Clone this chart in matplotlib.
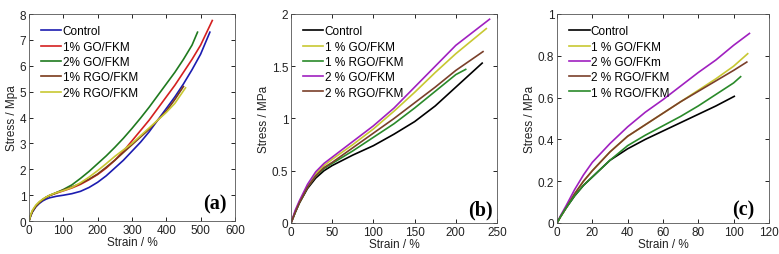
import matplotlib
matplotlib.use('Agg')
import matplotlib.pyplot as plt
from matplotlib.ticker import FuncFormatter

plt.rcParams['font.family'] = ['Liberation Sans', 'DejaVu Sans']
plt.rcParams['font.size'] = 8

# ---- panel (a) ----
a_labels = ['Control', '1% GO/FKM', '2% GO/FKM', '1% RGO/FKM', '2% RGO/FKM']
a_colors = ['#1c1cb0', '#d42020', '#1f7a1f', '#7a3a1a', '#c8c832']
a_x = [
    [0, 5, 10, 20, 30, 40, 50, 60, 80, 100, 125, 150, 175, 200, 225, 250, 275, 300, 325, 350, 375, 400, 425, 450, 475, 500, 527],
    [0, 5, 10, 20, 30, 40, 50, 60, 80, 100, 125, 150, 175, 200, 225, 250, 275, 300, 325, 350, 375, 400, 425, 450, 475, 500, 534],
    [0, 5, 10, 20, 30, 40, 50, 60, 80, 100, 125, 150, 175, 200, 225, 250, 275, 300, 325, 350, 375, 400, 425, 450, 475, 491],
    [0, 5, 10, 20, 30, 40, 50, 60, 80, 100, 125, 150, 175, 200, 225, 250, 275, 300, 325, 350, 375, 400, 425, 450],
    [0, 5, 10, 20, 30, 40, 50, 60, 80, 100, 125, 150, 175, 200, 225, 250, 275, 300, 325, 350, 375, 400, 425, 456],
]
a_y = [
    [0, 0.2, 0.35, 0.55, 0.68, 0.78, 0.85, 0.9, 0.96, 1.0, 1.06, 1.15, 1.3, 1.5, 1.75, 2.05, 2.35, 2.7, 3.05, 3.45, 3.9, 4.35, 4.8, 5.3, 5.85, 6.45, 7.3],
    [0, 0.22, 0.38, 0.58, 0.72, 0.83, 0.92, 0.99, 1.08, 1.17, 1.28, 1.42, 1.6, 1.8, 2.05, 2.35, 2.7, 3.1, 3.5, 3.9, 4.35, 4.8, 5.25, 5.75, 6.25, 6.8, 7.75],
    [0, 0.22, 0.38, 0.58, 0.72, 0.83, 0.92, 0.99, 1.1, 1.22, 1.4, 1.65, 1.92, 2.22, 2.52, 2.85, 3.2, 3.58, 3.98, 4.4, 4.85, 5.3, 5.75, 6.25, 6.8, 7.3],
    [0, 0.22, 0.38, 0.58, 0.72, 0.83, 0.92, 0.99, 1.1, 1.2, 1.32, 1.45, 1.62, 1.82, 2.08, 2.35, 2.65, 2.95, 3.25, 3.55, 3.9, 4.25, 4.7, 5.2],
    [0, 0.25, 0.42, 0.62, 0.75, 0.85, 0.93, 1.0, 1.1, 1.18, 1.3, 1.48, 1.7, 1.95, 2.22, 2.5, 2.75, 3.0, 3.3, 3.6, 3.9, 4.2, 4.55, 5.15],
]

# ---- panel (b) ----
b_labels = ['Control', '1 % GO/FKM', '1 % RGO/FKM', '2 % GO/FKM', '2 % RGO/FKM']
b_colors = ['#000000', '#c8c832', '#2a8a2a', '#a020c0', '#7a3f2a']
b_x = [
    [0, 5, 10, 20, 30, 40, 50, 75, 100, 125, 150, 155, 175, 200, 232],
    [0, 5, 10, 20, 30, 40, 50, 75, 100, 125, 150, 175, 200, 237],
    [0, 5, 10, 20, 30, 40, 50, 75, 100, 125, 150, 175, 200, 212],
    [0, 5, 10, 20, 30, 40, 50, 75, 100, 125, 150, 175, 200, 241],
    [0, 5, 10, 20, 30, 40, 50, 75, 100, 125, 150, 175, 200, 233],
]
b_y = [
    [0, 0.1, 0.19, 0.33, 0.43, 0.5, 0.55, 0.65, 0.74, 0.85, 0.97, 1.0, 1.12, 1.3, 1.53],
    [0, 0.11, 0.2, 0.35, 0.47, 0.55, 0.61, 0.75, 0.9, 1.07, 1.25, 1.44, 1.62, 1.86],
    [0, 0.1, 0.19, 0.34, 0.45, 0.52, 0.57, 0.69, 0.82, 0.95, 1.1, 1.26, 1.42, 1.47],
    [0, 0.12, 0.21, 0.37, 0.49, 0.57, 0.63, 0.78, 0.93, 1.1, 1.3, 1.5, 1.7, 1.95],
    [0, 0.1, 0.19, 0.34, 0.45, 0.53, 0.58, 0.72, 0.86, 1.0, 1.15, 1.3, 1.46, 1.64],
]

# ---- panel (c) ----
c_labels = ['Control', '1 % GO/FKM', '2 % GO/FKm', '2 % RGO/FKM', '1 % RGO/FKM']
c_colors = ['#000000', '#c8c832', '#a020c0', '#7a3f2a', '#2a8a2a']
c_x = [
    [0, 2, 5, 10, 15, 20, 30, 40, 50, 60, 70, 80, 90, 100.4],
    [0, 2, 5, 10, 15, 20, 30, 40, 50, 60, 70, 80, 90, 100, 108],
    [0, 2, 5, 10, 15, 20, 30, 40, 50, 60, 70, 80, 90, 100, 109],
    [0, 2, 5, 10, 15, 20, 30, 40, 50, 60, 70, 80, 90, 100, 107.5],
    [0, 2, 5, 10, 15, 20, 30, 40, 50, 60, 70, 80, 90, 100, 104],
]
c_y = [
    [0, 0.03, 0.07, 0.13, 0.18, 0.22, 0.3, 0.355, 0.4, 0.44, 0.48, 0.52, 0.56, 0.606],
    [0, 0.03, 0.07, 0.14, 0.2, 0.25, 0.34, 0.415, 0.47, 0.525, 0.58, 0.635, 0.69, 0.75, 0.81],
    [0, 0.035, 0.08, 0.16, 0.23, 0.29, 0.38, 0.46, 0.53, 0.59, 0.655, 0.72, 0.78, 0.85, 0.907],
    [0, 0.03, 0.07, 0.14, 0.2, 0.25, 0.34, 0.415, 0.47, 0.525, 0.58, 0.63, 0.68, 0.73, 0.77],
    [0, 0.03, 0.07, 0.13, 0.18, 0.22, 0.3, 0.37, 0.42, 0.465, 0.51, 0.56, 0.615, 0.67, 0.70],
]

fig = plt.figure(figsize=(7.79, 2.55), dpi=100)

panels = [
    ([0.0372, 0.129, 0.2644, 0.812], a_x, a_y, a_labels, a_colors,
     (0, 600), range(0, 601, 100), (0, 8), range(0, 9), 'Stress / Mpa', '(a)', 0.903, 0.087),
    ([0.3736, 0.1216, 0.2644, 0.8196], b_x, b_y, b_labels, b_colors,
     (0, 250), range(0, 251, 50), (0, 2), [0, 0.5, 1, 1.5, 2], 'Stress / MPa', '(b)', 0.922, 0.067),
    ([0.715, 0.1216, 0.272, 0.8196], c_x, c_y, c_labels, c_colors,
     (0, 120), range(0, 121, 20), (0, 1), [0, 0.2, 0.4, 0.6, 0.8, 1], 'Stress / MPa', '(c)', 0.879, 0.067),
]

for rect, xs, ys, labels, colors, xlim, xt, ylim, yt, ylab, tag, tx, ty in panels:
    ax = fig.add_axes(rect)
    for x, y, lab, col in zip(xs, ys, labels, colors):
        ax.plot(x, y, color=col, lw=1.2, label=lab)
    ax.set_xlim(*xlim)
    ax.set_ylim(*ylim)
    ax.set_xticks(list(xt))
    ax.set_yticks(list(yt))
    ax.yaxis.set_major_formatter(FuncFormatter(lambda v, p: '%g' % v))
    ax.tick_params(direction='in', length=3, width=0.6, top=True, right=True,
                   pad=2, labelsize=8.5, labelcolor='#222222')
    for s in ax.spines.values():
        s.set_linewidth(0.6)
        s.set_color('#555555')
    ax.set_xlabel('Strain / %', fontsize=8.5, labelpad=0, color='#222222')
    ax.set_ylabel(ylab, fontsize=8.5, labelpad=1, color='#222222')
    ax.legend(loc='upper left', frameon=False, fontsize=8.5, handlelength=1.7,
              handletextpad=0.1, labelspacing=0.28, borderaxespad=0.3,
              bbox_to_anchor=(0.02, 0.985))
    ax.text(tx, ty, tag, transform=ax.transAxes, ha='center', va='center',
            family=['Liberation Serif', 'DejaVu Serif'], fontweight='bold', fontsize=14.5)

fig.savefig('out.png', dpi=100)
